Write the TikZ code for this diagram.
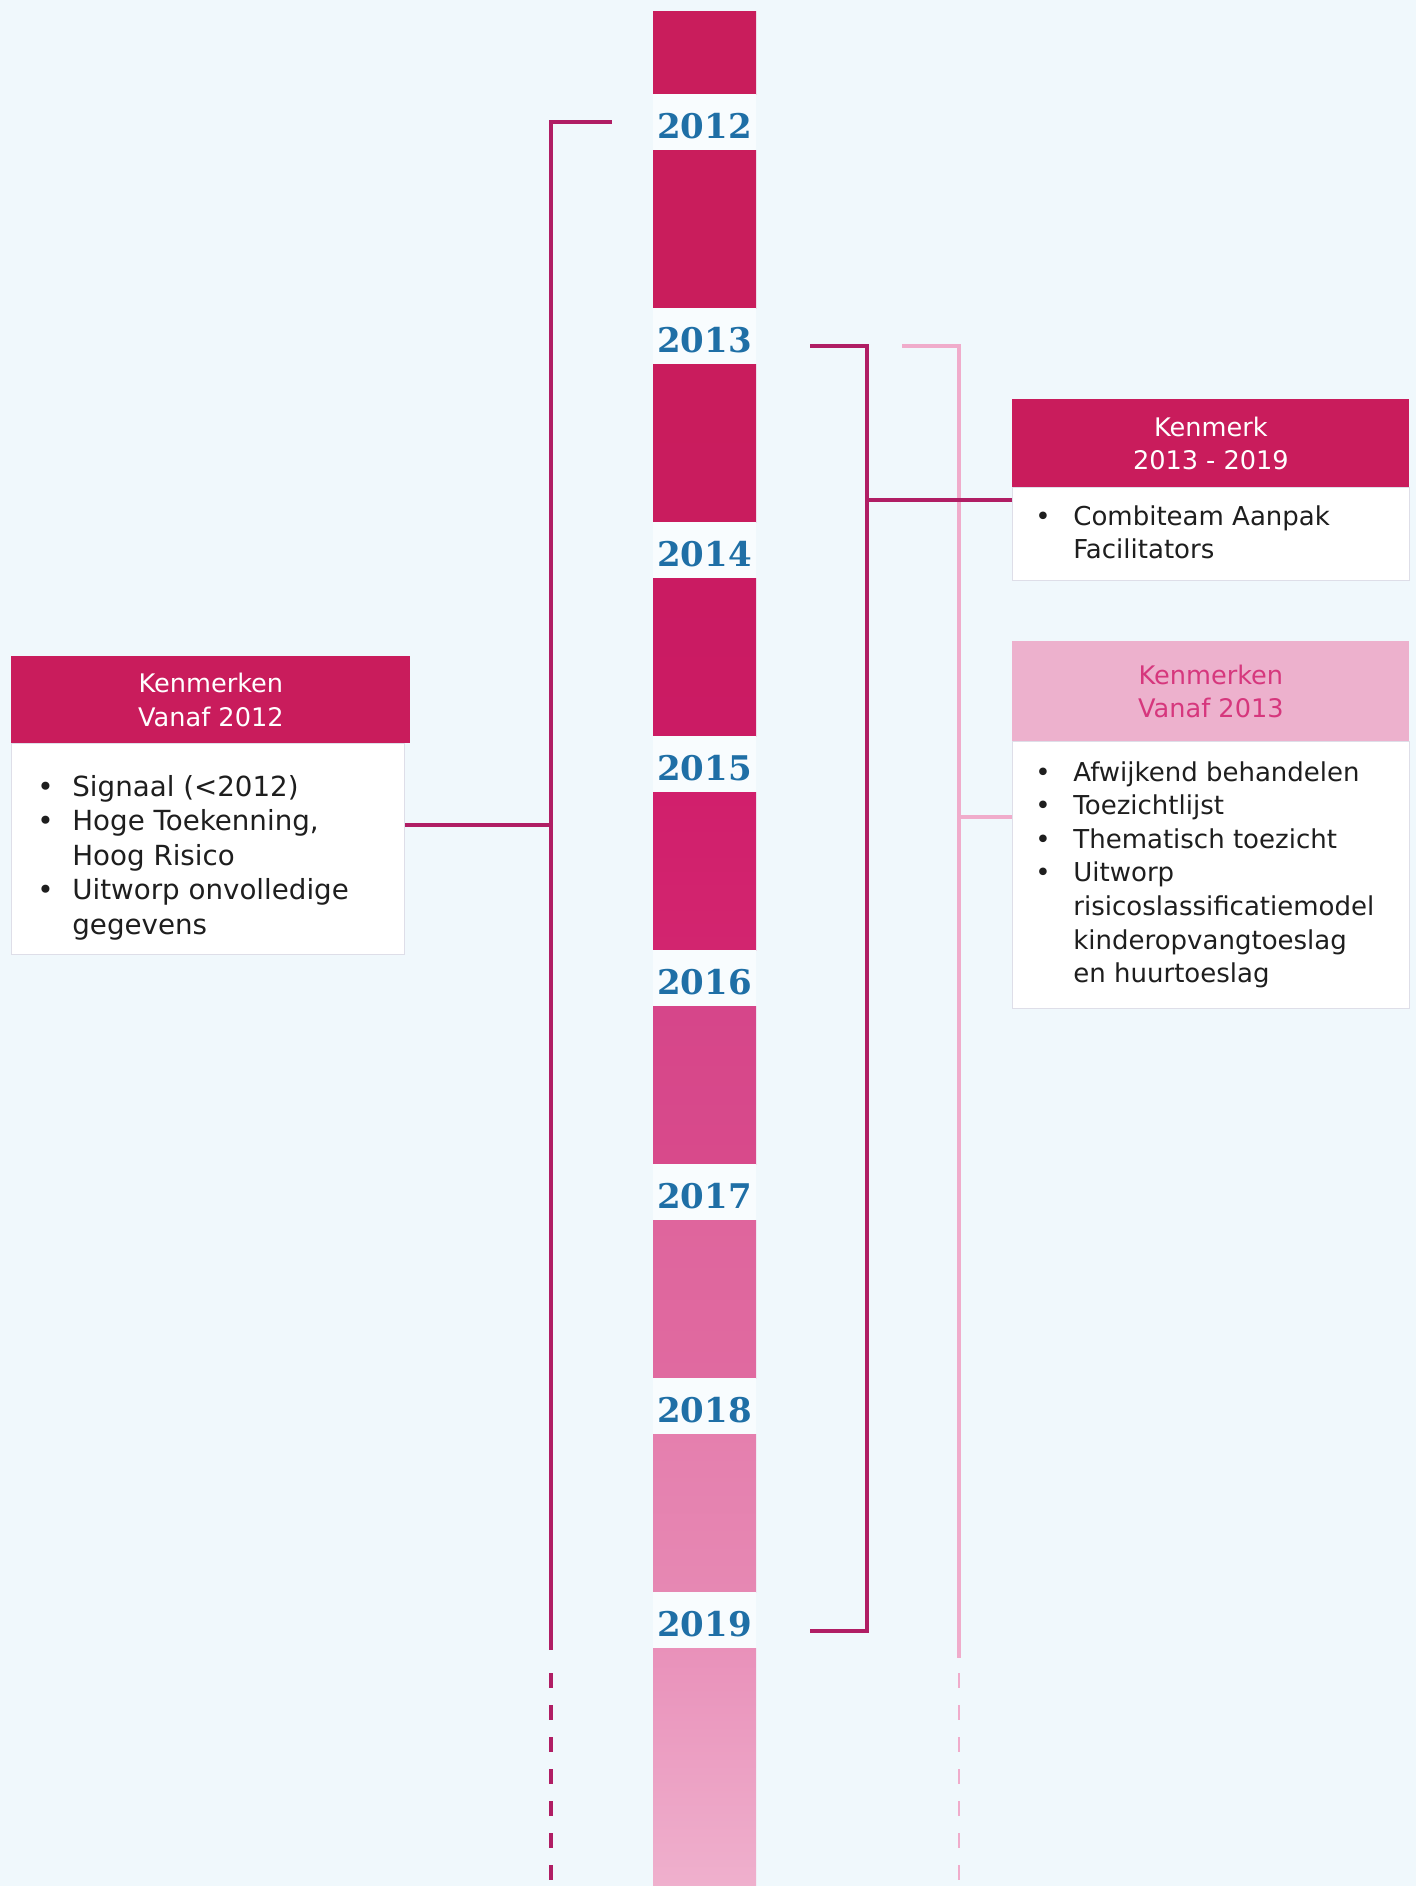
\documentclass[tikz,border=0pt]{standalone}
\usepackage{fontspec}
\setmainfont{DejaVu Sans}
\newfontfamily\yearfont{DejaVu Serif}
\usetikzlibrary{positioning}

\definecolor{achter}{HTML}{F0F8FC}
\definecolor{kers}{HTML}{C91C5C}
\definecolor{lijn}{HTML}{B01E64}
\definecolor{roze}{HTML}{EDB1CD}
\definecolor{rozelijn}{HTML}{F0ACCB}
\definecolor{rozetekst}{HTML}{D6377D}
\definecolor{jaarblauw}{HTML}{1F6FA6}
\definecolor{tekst}{HTML}{1E1E1E}
\definecolor{rand}{HTML}{DEDEE8}
% kleuren van de balk, boven/onder per stuk
\definecolor{bar0a}{HTML}{C91D5C}\definecolor{bar0b}{HTML}{C91D5C}
\definecolor{bar1a}{HTML}{C91D5C}\definecolor{bar1b}{HTML}{C91D5C}
\definecolor{bar2a}{HTML}{C91C5D}\definecolor{bar2b}{HTML}{C91C5E}
\definecolor{bar3a}{HTML}{CA1B62}\definecolor{bar3b}{HTML}{CB1B64}
\definecolor{bar4a}{HTML}{D11F6C}\definecolor{bar4b}{HTML}{D2256F}
\definecolor{bar5a}{HTML}{D6468A}\definecolor{bar5b}{HTML}{D84A8B}
\definecolor{bar6a}{HTML}{DF659D}\definecolor{bar6b}{HTML}{E06AA0}
\definecolor{bar7a}{HTML}{E57FAE}\definecolor{bar7b}{HTML}{E688B3}
\definecolor{bar8a}{HTML}{E991BA}\definecolor{bar8b}{HTML}{EFB0CD}

\begin{document}
\begin{tikzpicture}[x=0.5pt,y=-0.5pt,
    jaar/.style={fill=white!55!achter, minimum width=51.5pt, minimum height=28pt,
      inner sep=0pt, text height=16pt, text depth=0pt, text=jaarblauw,
      font=\yearfont\bfseries\fontsize{17}{17}\selectfont},
    kop/.style={fill=kers, text=white, inner sep=0pt, align=center, anchor=north west,
      font=\fontsize{12.8}{16.8}\selectfont},
    lijf/.style={fill=white, draw=rand, line width=0.6pt, inner sep=0pt, anchor=north west},
    lijst/.style={text=tekst, inner sep=0pt, anchor=base west},
    verbinding/.style={draw=lijn, line width=2pt},
    roze verbinding/.style={draw=rozelijn, line width=1.6pt}]

  \path[use as bounding box, fill=achter] (0,0) rectangle (1416,1886);

  % de balk
  \fill[top color=bar0a, bottom color=bar0b] (653,11) rectangle (756,94);
  \foreach \k in {1,...,7}
    \fill[top color=bar\k a, bottom color=bar\k b] (653,{150+214*(\k-1)}) rectangle (756,{94+214*\k});
  \fill[top color=bar8a, bottom color=bar8b] (653,1648) rectangle (756,1886);

  % jaartallen
  \foreach \jr [count=\k from 0] in {2012,...,2019}
    \node[jaar] (j\jr) at (704.5,{122+214*\k}) {\jr};

  % kaders
  \node[kop, minimum width=199.5pt, minimum height=43.5pt] (hdA) at (11,656) {Kenmerken\\Vanaf 2012};
  \node[lijf, minimum width=196.5pt, minimum height=105.5pt] (bdA) at (11,743) {};
  \node[lijst, font=\fontsize{13.85}{17.25}\selectfont] (lstA) at ([shift={(26,53)}]bdA.north west)
    {\begin{tabular}[t]{@{}p{17.5pt}@{}l@{}}
      \textbullet & Signaal (<2012)\\
      \textbullet & Hoge Toekenning,\\
                  & Hoog Risico\\
      \textbullet & Uitworp onvolledige\\
                  & gegevens
    \end{tabular}};

  \node[kop, minimum width=198.5pt, minimum height=44pt] (hdB) at (1012,399) {Kenmerk\\2013 - 2019};
  \node[lijf, minimum width=198.5pt, minimum height=46.5pt] (bdB) at (1012,487) {};
  \node[lijst, font=\fontsize{13}{16.8}\selectfont] (lstB) at ([shift={(23,38)}]bdB.north west)
    {\begin{tabular}[t]{@{}p{19pt}@{}l@{}}
      \textbullet & Combiteam Aanpak\\
                  & Facilitators
    \end{tabular}};

  \node[kop, fill=roze, text=rozetekst, minimum width=198.5pt, minimum height=50pt] (hdC) at (1012,641) {Kenmerken\\Vanaf 2013};
  \node[lijf, minimum width=198.5pt, minimum height=133.5pt] (bdC) at (1012,741) {};
  \node[lijst, font=\fontsize{13}{16.8}\selectfont] (lstC) at ([shift={(23,40)}]bdC.north west)
    {\begin{tabular}[t]{@{}p{19pt}@{}l@{}}
      \textbullet & Afwijkend behandelen\\
      \textbullet & Toezichtlijst\\
      \textbullet & Thematisch toezicht\\
      \textbullet & Uitworp\\
                  & risicoslassificatiemodel\\
                  & kinderopvangtoeslag\\
                  & en huurtoeslag
    \end{tabular}};

  % lijnen
  \coordinate (l12) at ([xshift=-20.5pt]j2012.west);
  \coordinate (r13) at ([shift={(54,10)}]j2013.east);
  \coordinate (r19) at ([shift={(54,11)}]j2019.east);
  \coordinate (p13) at ([shift={(146,10)}]j2013.east);
  \coordinate (lT) at (551,122);  \coordinate (lE) at (551,1650);
  \coordinate (lD) at (551,1673); \coordinate (lB) at (551,1886);
  \coordinate (jA) at (551,825);
  \coordinate (rT) at (867,346);  \coordinate (rE) at (867,1631);
  \coordinate (jB) at (867,500);
  \coordinate (pT) at (959,346);  \coordinate (pE) at (959,1658);
  \coordinate (pD) at (959,1673); \coordinate (pB) at (959,1886);
  \coordinate (jC) at (959,817);

  \draw[roze verbinding] (p13) -- (pT) -- (pE);
  \draw[roze verbinding, line width=1.4pt, dash pattern=on 7.5pt off 8.5pt] (pD) -- (pB);
  \draw[roze verbinding] (jC) -- (jC -| bdC.west);

  \draw[verbinding] (l12) -- (lT) -- (lE);
  \draw[verbinding, dash pattern=on 7.5pt off 8.5pt] (lD) -- (lB);
  \draw[verbinding] (jA) -- (jA -| bdA.east);

  \draw[verbinding] (r13) -- (rT) -- (rE) -- (r19);
  \draw[verbinding] (jB) -- (jB -| bdB.west);
\end{tikzpicture}
\end{document}
